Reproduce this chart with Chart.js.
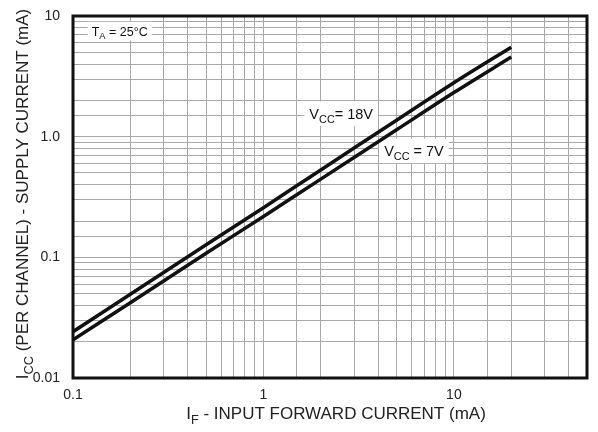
<!DOCTYPE html>
<html>
<head>
<meta charset="utf-8">
<script src="https://cdn.jsdelivr.net/npm/chart.js@4/dist/chart.umd.min.js"></script>
<style>
html,body{margin:0;padding:0;background:#fff;}
#wrap{width:598px;height:432px;}
</style>
</head>
<body>
<div id="wrap"><canvas id="c" width="598" height="432"></canvas></div>
<script>
// Data
const inputCurrent = [0.1, 0.2, 0.5, 1, 2, 5, 10, 20];
const supply18V = [0.0242, 0.0495, 0.127, 0.258, 0.53, 1.37, 2.8, 5.52];
const supply7V  = [0.0207, 0.0421, 0.108, 0.218, 0.445, 1.14, 2.32, 4.57];
const xTickValues = [0.1, 1, 10];
const xTickLabels = ['0.1', '1', '10'];
const yTickValues = [0.01, 0.1, 1, 10];
const yTickLabels = ['0.01', '0.1', '1.0', '10'];
const xRange = [0.1, 50];
const yRange = [0.01, 10];

const FONT = '"Liberation Sans", Arial, Helvetica, sans-serif';

function pts(xs, ys){ return xs.map((x,i)=>({x:x, y:ys[i]})); }

function runsWidth(ctx, runs, size){
  let w = 0;
  runs.forEach(r=>{ ctx.font = (r.sub? size*0.75 : size) + 'px ' + FONT; w += ctx.measureText(r.t).width; });
  return w;
}
function drawRuns(ctx, runs, x, y, size){
  ctx.textAlign = 'left'; ctx.textBaseline = 'alphabetic';
  runs.forEach(r=>{
    ctx.font = (r.sub? size*0.75 : size) + 'px ' + FONT;
    ctx.fillText(r.t, x, y + (r.sub ? size*0.28 : 0));
    x += ctx.measureText(r.t).width;
  });
}

const annotations = [
  {x:0.176, y:7.5, size:12.5, runs:[{t:'T'},{t:'A',sub:true},{t:' = 25°C'}], padX:4, padY:3},
  {x:2.56, y:1.55, size:14.5, runs:[{t:'V'},{t:'CC',sub:true},{t:'= 18V'}], padX:5, padY:5},
  {x:6.17, y:0.763, size:14.5, runs:[{t:'V'},{t:'CC',sub:true},{t:' = 7V'}], padX:5, padY:5}
];

const decor = {
  id:'decor',
  beforeDatasetsDraw(chart){
    const ctx = chart.ctx, xs = chart.scales.x, ys = chart.scales.y;
    ctx.save();
    annotations.forEach(a=>{
      const cx = xs.getPixelForValue(a.x), cy = ys.getPixelForValue(a.y);
      const w = runsWidth(ctx, a.runs, a.size);
      ctx.fillStyle = '#fff';
      ctx.fillRect(cx - w/2 - a.padX, cy - a.size/2 - a.padY, w + 2*a.padX, a.size + 2*a.padY);
      ctx.fillStyle = '#111';
      drawRuns(ctx, a.runs, cx - w/2, cy + a.size*0.36, a.size);
    });
    ctx.restore();
  },
  afterDraw(chart){
    const ctx = chart.ctx, ca = chart.chartArea;
    ctx.save();
    ctx.strokeStyle = '#111';
    ctx.lineWidth = 3;
    ctx.strokeRect(ca.left, ca.top, ca.right - ca.left, ca.bottom - ca.top);
    ctx.fillStyle = '#222';
    const xr = [{t:'I'},{t:'F',sub:true},{t:' - INPUT FORWARD CURRENT (mA)'}];
    const xw = runsWidth(ctx, xr, 17);
    drawRuns(ctx, xr, 336 - xw/2, 419, 17);
    const yr = [{t:'I'},{t:'CC',sub:true},{t:' (PER CHANNEL) - SUPPLY CURRENT (mA)'}];
    const yw = runsWidth(ctx, yr, 17);
    ctx.translate(28, 194);
    ctx.rotate(-Math.PI/2);
    drawRuns(ctx, yr, -yw/2, 0, 17);
    ctx.restore();
  }
};

new Chart(document.getElementById('c'), {
  type:'line',
  data:{
    datasets:[
      {label:'VCC = 18V', data:pts(inputCurrent, supply18V), borderColor:'#111', borderWidth:3.5, pointRadius:0, tension:0.3, fill:false},
      {label:'VCC = 7V', data:pts(inputCurrent, supply7V), borderColor:'#111', borderWidth:3.5, pointRadius:0, tension:0.3, fill:false}
    ]
  },
  options:{
    responsive:false,
    animation:false,
    devicePixelRatio:1,
    layout:{padding:{left:0, right:11, top:16, bottom:0}},
    plugins:{legend:{display:false}, tooltip:{enabled:false}, title:{display:false}},
    scales:{
      x:{
        type:'logarithmic', min:xRange[0], max:xRange[1],
        grid:{color:'#a8a8a8', lineWidth:1, drawTicks:false},
        border:{display:false},
        afterFit(s){ s.height = 54; s.paddingLeft = 0; s.paddingRight = 0; },
        ticks:{
          autoSkip:false, maxRotation:0, padding:9, color:'#222',
          font:{family:FONT, size:14},
          callback(v){ const i = xTickValues.findIndex(t=>Math.abs(t - v) < 1e-9); return i >= 0 ? xTickLabels[i] : ''; }
        }
      },
      y:{
        type:'logarithmic', min:yRange[0], max:yRange[1],
        grid:{color:'#a8a8a8', lineWidth:1, drawTicks:false},
        border:{display:false},
        afterFit(s){ s.width = 73; s.paddingTop = 0; s.paddingBottom = 0; },
        ticks:{
          autoSkip:false, padding:13, color:'#222',
          font:{family:FONT, size:14},
          callback(v){ const i = yTickValues.findIndex(t=>Math.abs(t - v) < 1e-12); return i >= 0 ? yTickLabels[i] : ''; }
        }
      }
    }
  },
  plugins:[decor]
});
</script>
</body>
</html>
